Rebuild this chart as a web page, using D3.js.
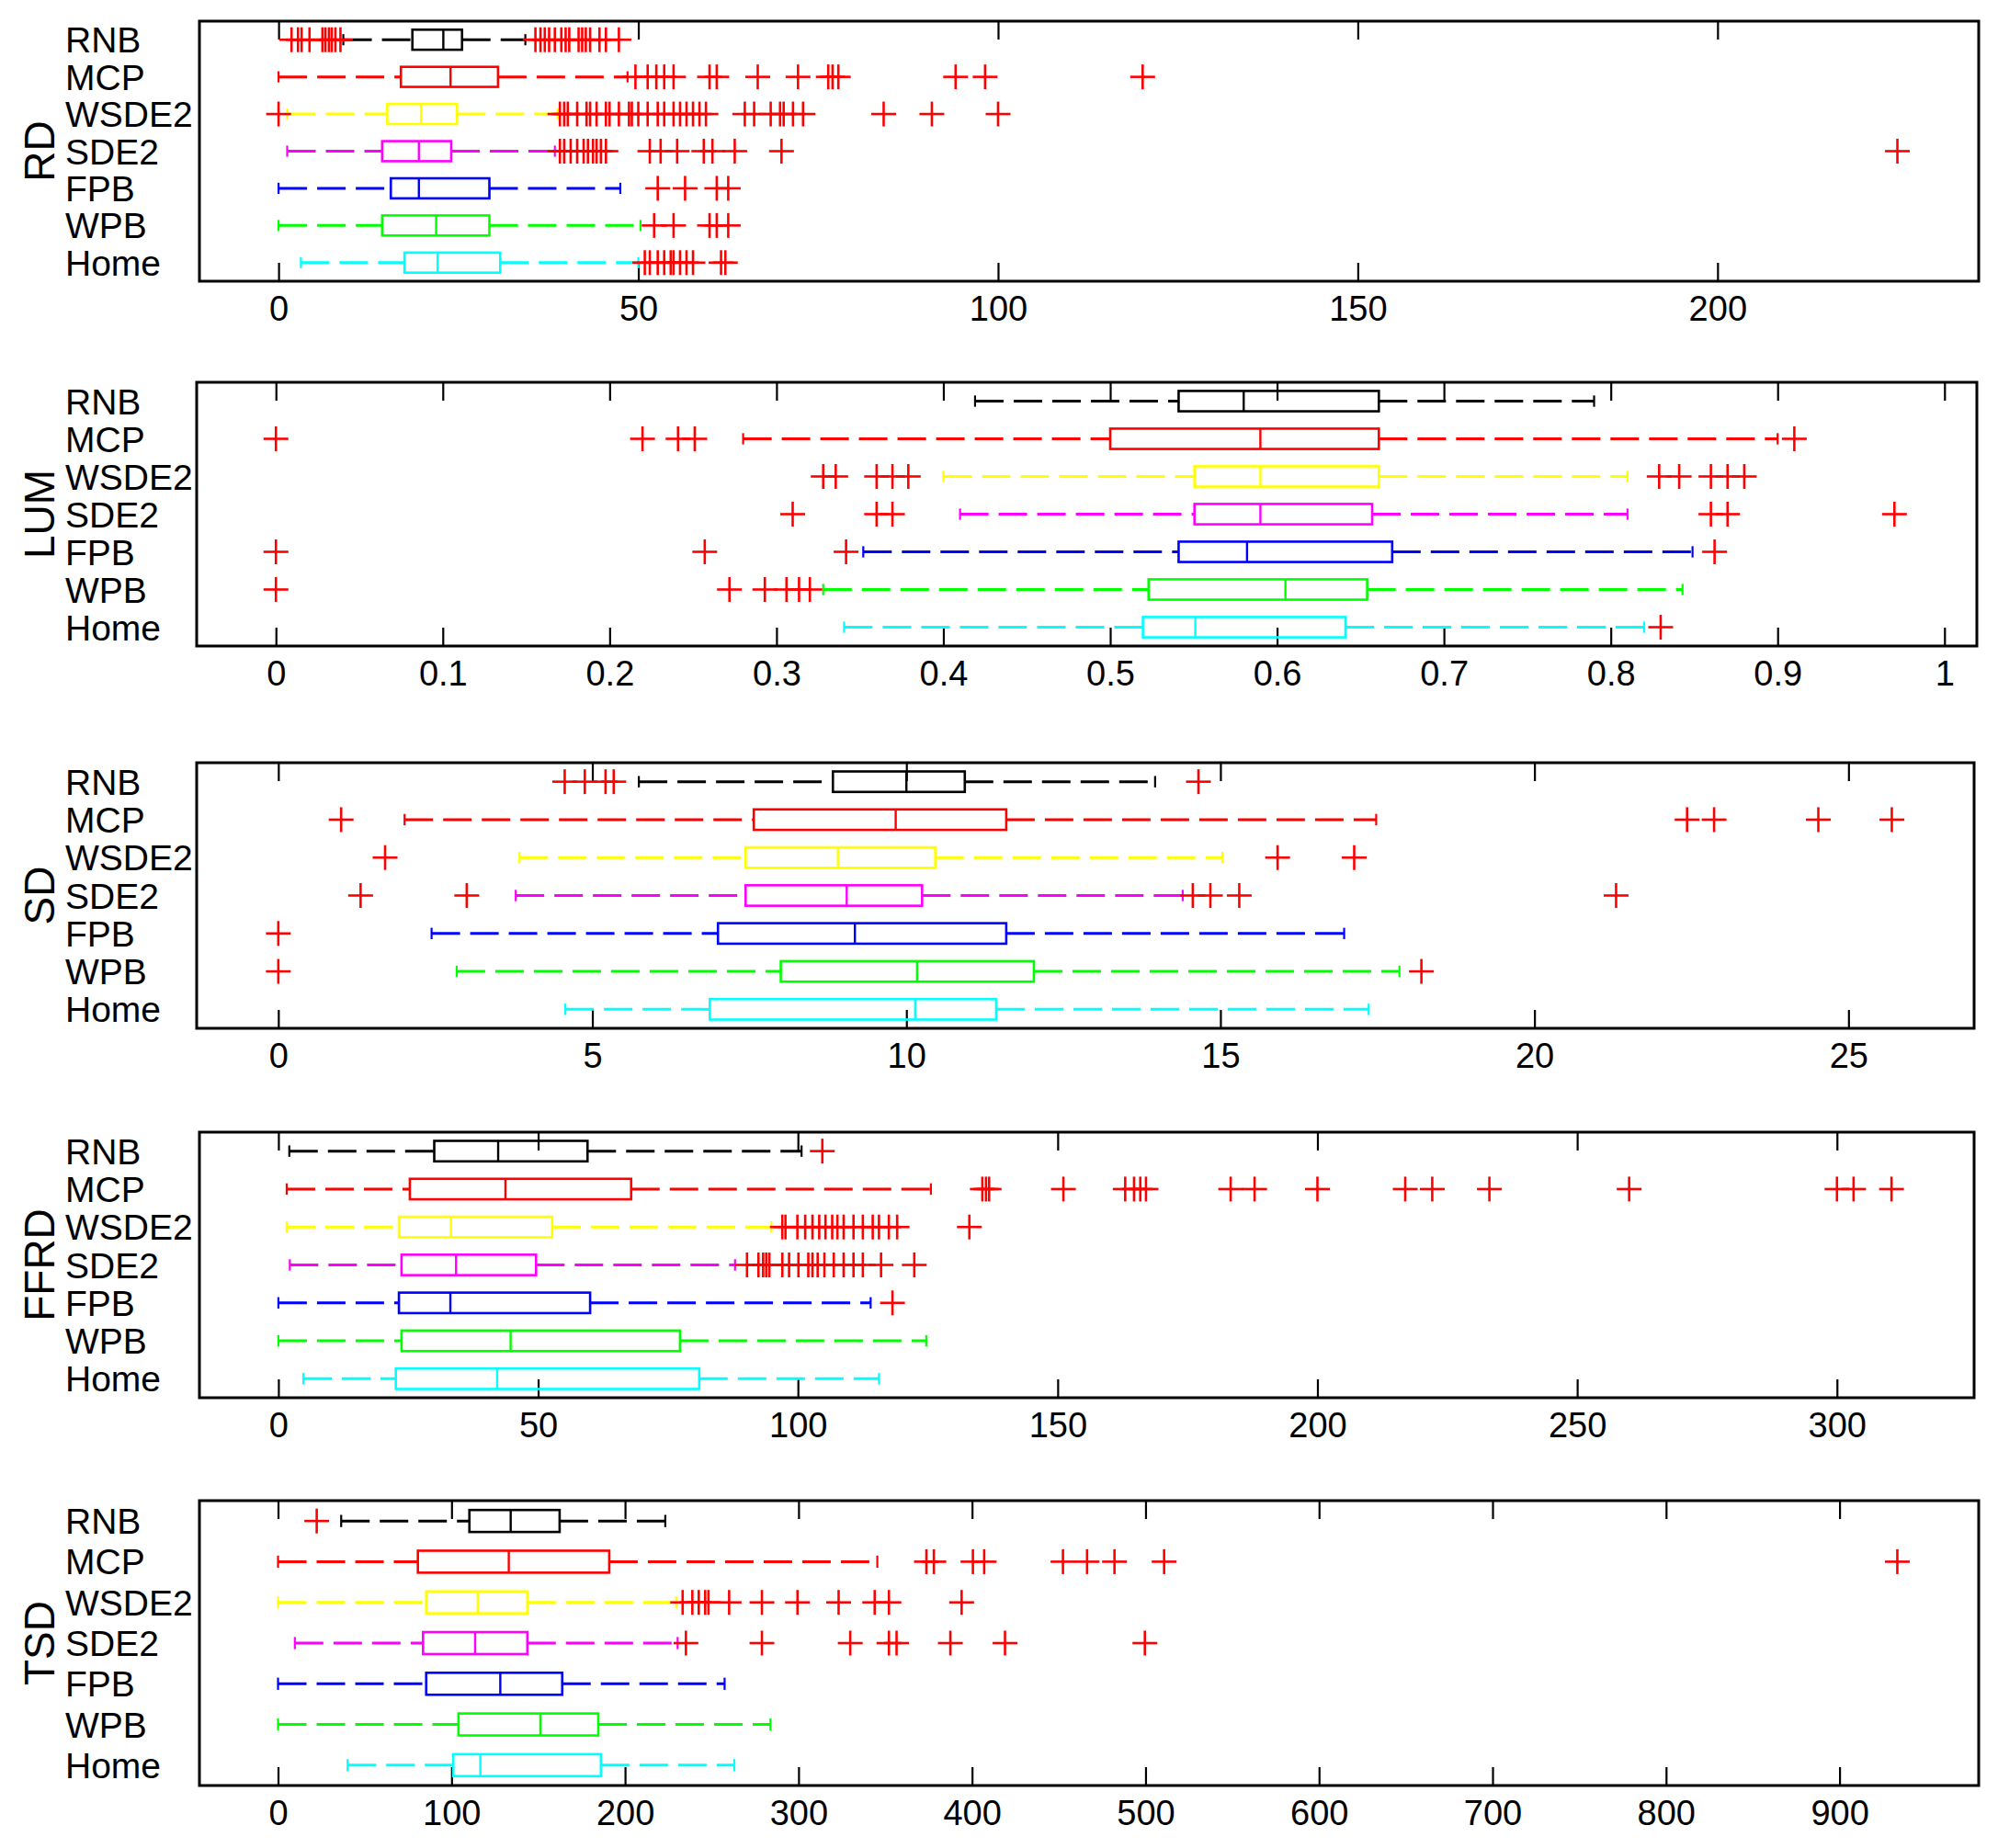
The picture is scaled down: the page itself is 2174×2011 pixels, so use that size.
<!DOCTYPE html>
<html>
<head>
<meta charset="utf-8">
<script src="https://cdn.jsdelivr.net/npm/d3@7"></script>
<style>
  body { margin: 0; background: #fff; }
  text { font-family: "Liberation Sans", Arial, sans-serif; fill: #000; }
</style>
</head>
<body>
<script>
var width = 2174;
var height = 2011;

var groups = ["RNB", "MCP", "WSDE2", "SDE2", "FPB", "WPB", "Home"];
var groupColors = ["#000000", "#ff0000", "#ffff00", "#ff00ff", "#0000ff", "#00ff00", "#00ffff"];

// [lower whisker, q1, median, q3, upper whisker] for each group
var rdStats = [
  [9.0, 18.6, 22.9, 25.5, 34.3],
  [0, 17.0, 23.9, 30.5, 48.5],
  [1.2, 15.1, 19.8, 24.8, 38.8],
  [1.2, 14.4, 19.5, 24.0, 38.4],
  [0, 15.6, 19.5, 29.3, 47.5],
  [0, 14.4, 21.9, 29.3, 50.3],
  [3.1, 17.5, 22.1, 30.8, 50.0]
];
var rdOutliers = [
  [1.8, 2.7, 3.2, 4.3, 6.1, 6.5, 7.0, 7.4, 7.9, 8.6, 35.7, 36.4, 37.0, 37.6, 38.4, 39.3, 39.9, 40.4, 41.7, 42.2, 42.7, 43.3, 44.6, 45.5, 47.3],
  [49.6, 51.3, 52.5, 53.6, 54.9, 59.9, 60.9, 66.6, 72.2, 76.4, 77.0, 77.8, 94.1, 98.2, 120.1],
  [0, 39.1, 39.7, 40.2, 41.5, 42.8, 43.3, 44.2, 45.5, 46.0, 47.3, 48.7, 49.1, 50.0, 51.3, 52.7, 53.6, 54.9, 55.8, 56.7, 57.6, 58.5, 59.4, 64.8, 66.1, 68.4, 69.7, 70.2, 71.5, 72.9, 84.1, 90.8, 100],
  [39.1, 39.7, 40.6, 41.5, 42.4, 43.0, 43.7, 44.2, 44.8, 45.5, 51.6, 53.1, 55.4, 59.1, 60.3, 63.4, 69.9, 225.0],
  [52.7, 56.5, 60.9, 62.5],
  [52.2, 54.9, 59.9, 60.9, 62.5],
  [50.9, 51.6, 52.7, 53.6, 54.5, 54.9, 55.8, 56.7, 57.6, 61.5, 62.1]
];
var rdTicks = [0, 50, 100, 150, 200];

var lumStats = [
  [0.419, 0.541, 0.580, 0.661, 0.790],
  [0.280, 0.500, 0.590, 0.661, 0.900],
  [0.400, 0.5505, 0.590, 0.661, 0.810],
  [0.410, 0.5505, 0.590, 0.657, 0.810],
  [0.352, 0.541, 0.582, 0.669, 0.849],
  [0.328, 0.523, 0.605, 0.654, 0.843],
  [0.3405, 0.5196, 0.551, 0.641, 0.820]
];
var lumOutliers = [
  [],
  [0, 0.2197, 0.241, 0.251, 0.910],
  [0.328, 0.3355, 0.360, 0.3695, 0.379, 0.829, 0.841, 0.860, 0.870, 0.880],
  [0.3097, 0.360, 0.3695, 0.860, 0.870, 0.970],
  [0, 0.257, 0.3417, 0.8622],
  [0, 0.2718, 0.293, 0.306, 0.3135, 0.320],
  [0.8299]
];
var lumTicks = [0, 0.1, 0.2, 0.3, 0.4, 0.5, 0.6, 0.7, 0.8, 0.9, 1];

var sdStats = [
  [5.74, 8.83, 10.0, 10.93, 13.96],
  [2.01, 7.57, 9.83, 11.59, 17.48],
  [3.84, 7.44, 8.91, 10.46, 15.03],
  [3.78, 7.44, 9.05, 10.25, 14.40],
  [2.44, 7.0, 9.18, 11.59, 16.97],
  [2.84, 8.0, 10.17, 12.03, 17.85],
  [4.57, 6.87, 10.14, 11.43, 17.36]
];
var sdOutliers = [
  [4.56, 4.88, 5.21, 5.34, 14.65],
  [1.0, 22.43, 22.86, 24.52, 25.69],
  [1.70, 15.91, 17.13],
  [1.31, 3.0, 14.56, 14.84, 15.30, 21.30],
  [0],
  [0, 18.2],
  []
];
var sdTicks = [0, 5, 10, 15, 20, 25];

var ffrdStats = [
  [2.1, 30.0, 42.3, 59.5, 100.7],
  [1.6, 25.3, 43.7, 67.9, 125.6],
  [1.6, 23.2, 33.2, 52.7, 94.9],
  [2.2, 23.7, 34.2, 49.6, 87.9],
  [0, 23.2, 33.1, 60.0, 114.0],
  [0, 23.7, 44.7, 77.3, 124.7],
  [4.8, 22.6, 42.1, 81.0, 115.6]
];
var ffrdOutliers = [
  [104.7],
  [135.5, 136.2, 136.8, 151.1, 163, 164.7, 165.9, 167, 183.3, 187.9, 200, 216.9, 222.1, 233.1, 260, 300, 303.2, 310.5],
  [97.0, 97.6, 99.9, 101.4, 102.8, 104.1, 105.3, 106.6, 107.6, 108.8, 110.7, 112.5, 114.4, 115.6, 117.5, 119.1, 133.0],
  [90.2, 92.4, 93.3, 93.9, 94.5, 97.0, 98.3, 100.1, 102.0, 102.8, 103.8, 105.1, 106.9, 108.8, 110.7, 112.5, 116.0, 122.4],
  [118.2],
  [],
  []
];
var ffrdTicks = [0, 50, 100, 150, 200, 250, 300];

var tsdStats = [
  [36.4, 110.3, 134.1, 162.3, 223.2],
  [0, 80.6, 133.0, 190.9, 345.4],
  [0, 85.4, 115.1, 143.7, 229.5],
  [9.7, 83.6, 113.6, 143.7, 230.3],
  [0, 85.4, 128.1, 163.8, 257.4],
  [0, 104.0, 151.2, 184.6, 283.8],
  [40.1, 101.0, 116.6, 186.1, 263.0]
];
var tsdOutliers = [
  [22.3],
  [373.7, 378, 400.5, 407, 452.4, 466.3, 482.1, 510.7, 933.3],
  [233.2, 238.8, 242.5, 246.2, 248.1, 260.0, 278.9, 299.4, 323.1, 343.9, 352.1, 394],
  [235.1, 278.9, 329.8, 352.1, 356.5, 387.5, 419.0, 499.6],
  [],
  [],
  []
];
var tsdTicks = [0, 100, 200, 300, 400, 500, 600, 700, 800, 900];

// panel frames in page pixels, x limits as in the original axes
var panels = [
  {title: "RD",   stats: rdStats,   out: rdOutliers,   ticks: rdTicks,   xlim: [-11, 236.3],      box: [217, 2153, 23, 306]},
  {title: "LUM",  stats: lumStats,  out: lumOutliers,  ticks: lumTicks,  xlim: [-0.0475, 1.0194], box: [214, 2151, 416, 703]},
  {title: "SD",   stats: sdStats,   out: sdOutliers,   ticks: sdTicks,   xlim: [-1.3, 27.0],      box: [214, 2148, 830, 1119]},
  {title: "FFRD", stats: ffrdStats, out: ffrdOutliers, ticks: ffrdTicks, xlim: [-15.2, 326.4],    box: [217, 2148, 1232, 1521]},
  {title: "TSD",  stats: tsdStats,  out: tsdOutliers,  ticks: tsdTicks,  xlim: [-45.3, 980.2],    box: [217, 2153, 1633, 1943]}
];

var svg = d3.select("body").append("svg")
    .attr("width", width)
    .attr("height", height);

var fmt = d3.format("~g");

panels.forEach(function(p) {
  var left = p.box[0], right = p.box[1], top = p.box[2], bottom = p.box[3];
  var x = d3.scaleLinear().domain(p.xlim).range([left, right]);
  // group 1 (RNB) at the top, like matlab's horizontal boxplot
  var y = d3.scaleLinear().domain([0.5, 7.5]).range([bottom, top]);
  var band = (bottom - top) / 7;
  var boxH = band * 0.54;
  var capH = band * 0.3;
  var plus = 13.5;

  var g = svg.append("g").attr("class", "panel");

  // axes, ticks inside on both sides
  var bx = g.append("g")
    .attr("transform", "translate(0," + bottom + ")")
    .call(d3.axisBottom(x).tickValues(p.ticks).tickSize(-20).tickPadding(16).tickFormat(fmt));
  bx.select(".domain").remove();
  bx.selectAll("line").attr("stroke", "#000").attr("stroke-width", 2.2);
  bx.selectAll("text").style("font-size", "38px").attr("fill", "#000");

  var tx = g.append("g")
    .attr("transform", "translate(0," + top + ")")
    .call(d3.axisTop(x).tickValues(p.ticks).tickSize(-20).tickFormat(""));
  tx.select(".domain").remove();
  tx.selectAll("line").attr("stroke", "#000").attr("stroke-width", 2.2);

  var rows = g.selectAll(".grp")
    .data(p.stats)
    .enter()
    .append("g")
    .attr("class", "grp");

  rows.each(function(s, i) {
    var row = d3.select(this);
    var cy = y(7 - i);
    var col = groupColors[i];

    // whiskers
    row.selectAll(".wh")
      .data([[s[0], s[1]], [s[3], s[4]]])
      .enter()
      .append("line")
      .attr("class", "wh")
      .attr("x1", function(d) { return x(d[0]); })
      .attr("x2", function(d) { return x(d[1]); })
      .attr("y1", cy)
      .attr("y2", cy)
      .attr("stroke", col)
      .attr("stroke-width", 3)
      .attr("stroke-dasharray", "31,11");

    row.selectAll(".cap")
      .data([s[0], s[4]])
      .enter()
      .append("line")
      .attr("class", "cap")
      .attr("x1", function(d) { return x(d); })
      .attr("x2", function(d) { return x(d); })
      .attr("y1", cy - capH / 2)
      .attr("y2", cy + capH / 2)
      .attr("stroke", col)
      .attr("stroke-width", 2.2);

    row.append("rect")
      .attr("x", x(s[1]))
      .attr("y", cy - boxH / 2)
      .attr("width", x(s[3]) - x(s[1]))
      .attr("height", boxH)
      .attr("fill", "none")
      .attr("stroke", col)
      .attr("stroke-width", 2.6);

    row.append("line")
      .attr("x1", x(s[2]))
      .attr("x2", x(s[2]))
      .attr("y1", cy - boxH / 2)
      .attr("y2", cy + boxH / 2)
      .attr("stroke", col)
      .attr("stroke-width", 2.4);

    // outliers as red plus signs
    var pts = row.selectAll(".out")
      .data(p.out[i])
      .enter()
      .append("g")
      .attr("class", "out")
      .attr("transform", function(d) { return "translate(" + x(d) + "," + cy + ")"; });
    pts.append("line")
      .attr("x1", -plus).attr("x2", plus).attr("y1", 0).attr("y2", 0)
      .attr("stroke", "#ff0000").attr("stroke-width", 2.6);
    pts.append("line")
      .attr("x1", 0).attr("x2", 0).attr("y1", -plus).attr("y2", plus)
      .attr("stroke", "#ff0000").attr("stroke-width", 2.6);

    g.append("text")
      .attr("x", 71)
      .attr("y", cy)
      .attr("dy", "0.36em")
      .style("font-size", "39px")
      .text(groups[i]);
  });

  // frame
  g.append("rect")
    .attr("x", left)
    .attr("y", top)
    .attr("width", right - left)
    .attr("height", bottom - top)
    .attr("fill", "none")
    .attr("stroke", "#000")
    .attr("stroke-width", 3);

  g.append("text")
    .attr("transform", "translate(42," + ((top + bottom) / 2) + ") rotate(-90)")
    .attr("text-anchor", "middle")
    .attr("dy", "0.36em")
    .style("font-size", "46px")
    .text(p.title);
});
</script>
</body>
</html>
